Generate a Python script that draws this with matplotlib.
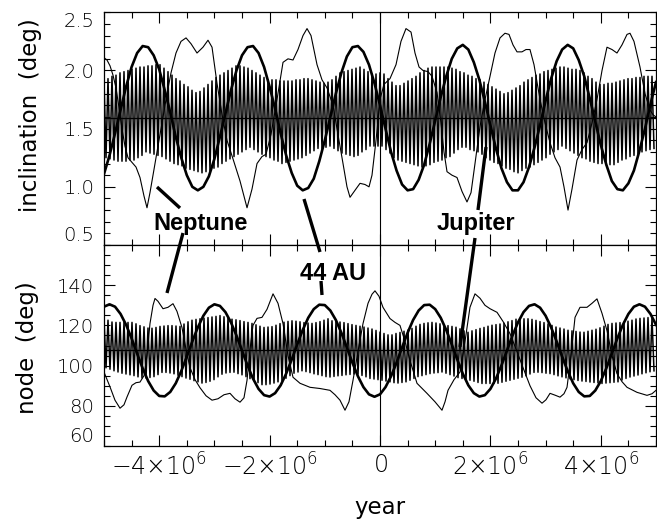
import numpy as np
import matplotlib
matplotlib.use("Agg")
import matplotlib.pyplot as plt
from matplotlib.lines import Line2D
from matplotlib.ticker import MultipleLocator, FixedLocator

plt.rcParams['font.family'] = ['DejaVu Sans']
plt.rcParams['font.weight'] = 'light'
plt.rcParams['mathtext.fontset'] = 'custom'
plt.rcParams['mathtext.rm'] = 'DejaVu Sans:light'
plt.rcParams['mathtext.it'] = 'DejaVu Sans:italic:light'
plt.rcParams['mathtext.bf'] = 'DejaVu Sans:bold'

# ---------------- data ----------------
# Jupiter: successive maxima / minima of the fast oscillation (one pair per cycle)
jup_inc_hi = [1.92,1.93,1.95,1.96,1.98,1.99,2.00,2.01,2.02,2.03,
 2.03,2.04,2.04,2.05,2.05,2.02,1.99,1.96,1.93,1.91,
 1.88,1.86,1.83,1.81,1.82,1.85,1.88,1.91,1.94,1.96,
 1.98,2.00,2.02,2.04,2.04,2.03,2.02,2.00,1.98,1.96,
 1.94,1.92,1.92,1.92,1.91,1.91,1.91,1.91,1.92,1.92,
 1.93,1.93,1.92,1.91,1.90,1.89,1.90,1.92,1.95,1.98,
 1.99,2.00,2.01,2.02,2.03,2.01,1.99,1.97,1.97,1.98,
 1.97,1.93,1.90,1.87,1.87,1.89,1.91,1.93,1.95,1.98,
 2.00,2.02,2.03,2.03,2.03,2.03,2.03,2.02,2.01,1.99,
 1.98,1.96,1.95,1.93,1.92,1.90,1.88,1.86,1.84,1.82,
 1.80,1.81,1.83,1.85,1.87,1.90,1.92,1.94,1.96,1.97,
 1.99,2.00,2.01,2.02,2.03,2.03,2.02,2.01,2.01,2.00,
 1.98,1.95,1.93,1.90,1.88,1.88,1.89,1.89,1.90,1.91,
 1.92,1.93,1.93,1.94,1.94,1.95,1.95,1.95]
jup_inc_lo = [1.25,1.24,1.23,1.22,1.22,1.22,1.23,1.23,1.25,1.27,
 1.30,1.29,1.28,1.27,1.26,1.24,1.22,1.20,1.19,1.18,
 1.16,1.15,1.14,1.13,1.12,1.13,1.14,1.16,1.17,1.20,
 1.22,1.24,1.26,1.28,1.30,1.32,1.34,1.32,1.30,1.28,
 1.26,1.25,1.23,1.22,1.20,1.21,1.22,1.23,1.24,1.25,
 1.27,1.29,1.31,1.33,1.33,1.34,1.35,1.33,1.31,1.29,
 1.28,1.27,1.26,1.27,1.30,1.32,1.35,1.35,1.35,1.35,
 1.32,1.29,1.25,1.23,1.22,1.21,1.20,1.19,1.18,1.17,
 1.18,1.19,1.21,1.22,1.23,1.25,1.26,1.29,1.32,1.34,
 1.34,1.32,1.31,1.30,1.28,1.25,1.23,1.21,1.20,1.18,
 1.16,1.15,1.13,1.12,1.14,1.16,1.17,1.19,1.21,1.23,
 1.25,1.28,1.30,1.32,1.35,1.33,1.31,1.29,1.27,1.25,
 1.24,1.22,1.21,1.20,1.20,1.19,1.19,1.19,1.21,1.23,
 1.24,1.26,1.27,1.28,1.30,1.31,1.32,1.33]
jup_node_hi = [123.5,122.6,121.7,121.5,121.5,121.5,121.5,121.5,120.8,119.9,
 119.3,118.7,118.6,119.0,119.5,119.7,119.9,119.9,119.7,119.5,
 120.7,121.8,122.6,123.0,123.3,123.6,123.9,124.2,124.5,124.9,
 124.3,123.6,123.1,122.8,122.4,121.9,121.5,121.0,120.3,119.6,
 119.0,119.2,119.4,120.1,120.9,121.6,122.0,122.3,122.1,121.8,
 121.4,121.2,121.0,121.4,121.9,122.6,123.3,122.3,122.0,121.7,
 121.4,120.9,120.4,120.0,119.6,119.2,118.7,118.2,117.5,116.7,
 116.0,115.3,115.3,116.0,116.5,117.1,117.7,118.5,119.6,120.5,
 121.0,121.3,121.5,121.2,120.8,120.3,119.9,119.5,119.1,118.3,
 117.3,116.6,117.3,117.9,118.5,119.0,119.6,120.1,120.4,120.7,
 121.1,121.8,122.4,123.1,123.3,123.3,123.3,123.0,122.5,121.9,
 121.4,120.7,120.0,119.2,118.7,118.2,117.6,117.3,117.0,116.7,
 116.6,117.1,117.6,118.1,118.8,119.6,120.5,121.0,121.2,121.4,
 121.6,122.1,122.6,123.2,123.5,123.7,123.9,123.8]
jup_node_lo = [98.9,98.2,97.4,96.8,96.2,95.8,95.4,95.0,94.4,93.8,
 93.8,94.1,94.5,95.5,96.6,96.6,96.3,95.9,95.2,94.5,
 93.8,93.2,92.5,91.9,91.3,91.6,92.2,93.0,94.4,95.7,
 96.3,96.6,96.7,96.0,95.4,94.5,93.5,92.5,91.5,90.5,
 90.5,90.8,91.3,91.9,92.5,93.7,95.0,96.2,96.8,97.4,
 97.0,96.5,95.9,95.5,95.0,94.5,94.3,94.6,94.9,95.1,
 95.4,95.6,95.8,95.8,95.1,94.4,93.6,93.3,93.0,92.7,
 92.3,91.9,91.5,91.3,91.6,91.9,92.7,93.6,94.5,95.0,
 95.5,96.0,96.3,96.5,96.8,96.2,95.5,94.8,94.0,93.6,
 93.2,92.7,92.2,91.6,91.1,91.1,91.1,91.1,91.2,91.7,
 92.2,92.7,93.2,93.7,94.2,94.9,95.8,96.6,96.7,96.5,
 96.2,96.0,95.5,94.9,94.4,93.9,93.4,93.0,92.6,92.3,
 92.1,91.8,91.6,91.4,91.1,91.3,91.5,91.7,91.9,92.8,
 93.6,94.3,94.8,95.3,95.9,96.4,96.9,97.4]
jup_period = 10e6 / 138          # years per fast cycle

# 44 AU plane, sampled every 1e5 yr from -5e6 to 5e6
au44_step = 1e5
au44_inc = [1.11,1.27,1.46,1.66,1.86,2.03,2.15,2.21,2.20,2.13,
 2.01,1.83,1.64,1.43,1.25,1.10,1.00,0.97,1.00,1.09,
 1.24,1.43,1.63,1.83,2.00,2.13,2.20,2.21,2.15,2.03,
 1.86,1.67,1.46,1.27,1.12,1.01,0.97,0.99,1.07,1.22,
 1.40,1.60,1.80,1.98,2.12,2.20,2.21,2.16,2.05,1.89,
 1.70,1.50,1.30,1.14,1.02,0.97,0.98,1.06,1.19,1.37,
 1.57,1.77,1.95,2.10,2.19,2.22,2.18,2.07,1.92,1.73,
 1.53,1.33,1.16,1.04,0.97,0.97,1.04,1.17,1.34,1.53,
 1.74,1.93,2.08,2.18,2.22,2.19,2.09,1.95,1.76,1.56,
 1.36,1.19,1.05,0.98,0.97,1.03,1.14,1.31,1.50,1.71,
 1.90]
au44_node = [129.3,130.5,129.3,125.7,120.3,113.5,106.0,98.7,92.3,87.6,
 84.9,84.7,86.9,91.2,97.3,104.5,112.0,119.0,124.8,128.8,
 130.5,129.7,126.6,121.5,114.9,107.5,100.1,93.5,88.4,85.3,
 84.6,86.3,90.2,96.0,103.0,110.5,117.7,123.8,128.1,130.3,
 130.1,127.4,122.7,116.3,109.0,101.5,94.7,89.3,85.7,84.5,
 85.7,89.3,94.7,101.5,109.0,116.3,122.7,127.4,130.1,130.3,
 128.1,123.8,117.7,110.5,103.0,96.0,90.2,86.3,84.6,85.3,
 88.4,93.5,100.1,107.5,114.9,121.5,126.6,129.7,130.5,128.8,
 124.8,119.0,112.0,104.5,97.3,91.2,86.9,84.7,84.9,87.6,
 92.3,98.7,106.0,113.5,120.3,125.7,129.3,130.5,129.3,125.7,
 120.3]

# Neptune (time in Myr, value)
nep_inc_t = [-5.000,-4.946,-4.891,-4.837,-4.783,-4.728,-4.674,-4.620,-4.565,-4.493,
 -4.420,-4.348,-4.275,-4.221,-4.167,-4.094,-4.022,-3.949,-3.877,-3.786,
 -3.696,-3.605,-3.514,-3.424,-3.315,-3.207,-3.116,-3.043,-2.953,-2.862,
 -2.772,-2.663,-2.536,-2.409,-2.319,-2.228,-2.138,-2.065,-1.975,-1.866,
 -1.757,-1.667,-1.576,-1.486,-1.395,-1.322,-1.250,-1.141,-1.051,-0.960,
 -0.851,-0.761,-0.670,-0.598,-0.543,-0.453,-0.362,-0.272,-0.199,-0.145,
 -0.072,0.000,0.072,0.181,0.290,0.380,0.471,0.562,0.634,0.707,
 0.779,0.870,0.942,1.033,1.105,1.159,1.214,1.304,1.395,1.486,
 1.576,1.649,1.721,1.812,1.902,1.993,2.083,2.174,2.264,2.337,
 2.409,2.482,2.572,2.645,2.717,2.790,2.899,2.989,3.080,3.170,
 3.261,3.333,3.406,3.478,3.569,3.659,3.750,3.841,3.931,4.022,
 4.112,4.203,4.293,4.384,4.475,4.529,4.601,4.710,4.801,4.891,
 4.946,5.000]
nep_inc_v = [2.11,2.09,2.04,1.96,1.85,1.68,1.50,1.35,1.25,1.21,
 1.17,1.08,0.92,0.82,0.95,1.15,1.35,1.55,1.75,1.98,
 2.15,2.25,2.28,2.23,2.15,2.20,2.26,2.20,1.89,1.62,
 1.40,1.24,1.05,0.82,0.98,1.20,1.26,1.28,1.45,1.75,
 2.07,2.10,2.09,2.18,2.30,2.36,2.30,2.05,1.92,1.85,
 1.70,1.45,1.20,1.00,0.91,0.97,1.03,1.02,1.00,1.10,
 1.40,1.75,1.88,1.93,2.05,2.25,2.36,2.33,2.15,2.03,
 2.00,1.99,1.95,1.81,1.55,1.30,1.13,1.10,1.08,0.96,
 0.87,0.95,1.20,1.52,1.75,1.95,2.15,2.28,2.32,2.31,
 2.22,2.16,2.16,2.18,2.18,2.05,1.75,1.55,1.38,1.25,
 1.17,1.00,0.80,0.98,1.23,1.32,1.38,1.55,1.75,2.00,
 2.20,2.18,2.15,2.22,2.31,2.32,2.25,2.03,1.80,1.66,
 1.62,1.60]
nep_node_t = [-5.000,-4.891,-4.801,-4.710,-4.638,-4.583,-4.493,-4.420,-4.348,-4.275,
 -4.221,-4.167,-4.112,-4.076,-4.022,-3.931,-3.841,-3.750,-3.678,-3.587,
 -3.514,-3.442,-3.351,-3.261,-3.152,-3.043,-2.935,-2.826,-2.717,-2.627,
 -2.536,-2.464,-2.409,-2.355,-2.301,-2.228,-2.138,-2.047,-1.938,-1.848,
 -1.757,-1.667,-1.576,-1.449,-1.268,-1.087,-0.906,-0.815,-0.725,-0.634,
 -0.562,-0.489,-0.399,-0.308,-0.217,-0.145,-0.091,-0.018,0.054,0.181,
 0.272,0.362,0.453,0.543,0.670,0.851,0.996,1.123,1.178,1.232,
 1.341,1.449,1.540,1.630,1.721,1.812,1.902,1.993,2.120,2.228,
 2.355,2.482,2.591,2.717,2.826,2.935,3.007,3.080,3.170,3.261,
 3.333,3.388,3.460,3.533,3.623,3.750,3.841,3.931,4.022,4.112,
 4.203,4.293,4.384,4.475,4.656,4.837,4.928,5.000]
nep_node_v = [96.8,89.4,82.8,78.8,80.5,84.4,90.2,91.5,91.8,95.0,
 105.0,120.9,130.0,133.4,132.0,128.3,129.0,130.8,127.0,118.9,
 108.0,99.0,93.0,89.0,85.0,82.8,83.5,85.5,86.2,83.5,
 81.8,84.0,92.7,108.0,120.0,123.5,124.0,128.0,135.7,131.0,
 120.9,105.0,94.2,91.2,89.2,88.6,87.7,85.5,82.8,77.8,
 82.0,92.7,107.0,120.9,131.0,135.5,137.2,134.5,129.0,123.4,
 121.5,120.0,112.0,102.6,91.2,86.2,82.0,77.8,82.0,87.7,
 93.0,96.8,112.0,129.0,135.7,133.5,130.0,128.3,126.5,122.0,
 115.9,107.0,99.0,90.0,84.0,81.3,83.0,86.2,85.3,84.3,
 86.0,89.2,105.0,124.0,129.0,129.0,131.0,133.2,126.0,117.4,
 105.0,96.0,92.0,89.2,86.7,85.2,86.0,87.7]

inc_ref = 1.59
node_ref = 108.0

xticks = [-4e6, -2e6, 0, 2e6, 4e6]
xticklabels = [r'$-4{\times}10^{6}$', r'$-2{\times}10^{6}$', r'$0$',
               r'$2{\times}10^{6}$', r'$4{\times}10^{6}$']
inc_ticks = [0.5, 1.0, 1.5, 2.0, 2.5]
inc_labels = ['0.5', '1.0', '1.5', '2.0', '2.5']
node_ticks = [60, 80, 100, 120, 140]
node_labels = ['60', '80', '100', '120', '140']

# ---------------- figure ----------------
W, H = 657, 519
fig = plt.figure(figsize=(W / 100, H / 100), dpi=100)
def fx(px): return px / W
def fy(py): return 1 - py / H

L, R = 104, 656
ax1 = fig.add_axes([fx(L), fy(245), fx(R) - fx(L), fy(12.3) - fy(245)])
ax2 = fig.add_axes([fx(L), fy(446), fx(R) - fx(L), fy(245) - fy(446)])

# derived x grids
jt = -5e6 + (jup_period / 2) * np.arange(2 * len(jup_inc_hi))
jinc = np.empty(len(jt)); jinc[0::2] = jup_inc_hi; jinc[1::2] = jup_inc_lo
jnode = np.empty(len(jt)); jnode[0::2] = jup_node_hi; jnode[1::2] = jup_node_lo
at = -5e6 + au44_step * np.arange(len(au44_inc))

for ax, jv, av, nt, nv, ref in [
        (ax1, jinc, au44_inc, nep_inc_t, nep_inc_v, inc_ref),
        (ax2, jnode, au44_node, nep_node_t, nep_node_v, node_ref)]:
    ax.plot(jt, jv, color='black', lw=1.1, zorder=2)
    ax.plot(np.array(nt) * 1e6, nv, color='black', lw=0.8, zorder=3)
    ax.plot(at, av, color='black', lw=1.9, zorder=4)
    ax.axhline(ref, color='black', lw=0.9, zorder=5)
    ax.axvline(0, color='black', lw=0.8, zorder=5)
    ax.set_xlim(-5e6, 5e6)
    ax.xaxis.set_major_locator(FixedLocator(xticks))
    ax.xaxis.set_minor_locator(MultipleLocator(5e5))
    ax.tick_params(which='both', direction='in', top=True, right=True,
                   width=0.8, labelsize=14, pad=7, labelcolor='black')
    ax.tick_params(which='major', length=8)
    ax.tick_params(which='minor', length=4)
    for s in ax.spines.values():
        s.set_linewidth(0.9)

ax1.set_ylim(0.5, 2.5)
ax1.set_yticks(inc_ticks)
ax1.set_yticklabels(inc_labels)
ax1.yaxis.set_minor_locator(MultipleLocator(0.1))
ax1.tick_params(axis='x', labelbottom=False)

ax2.set_ylim(60, 160)
ax2.set_yticks(node_ticks)
ax2.set_yticklabels(node_labels)
ax2.yaxis.set_minor_locator(MultipleLocator(5))
ax2.set_xticks(xticks)
ax2.set_xticklabels(xticklabels)
ax2.tick_params(axis='x', labelsize=17, pad=5)

ax1.set_ylabel('inclination  (deg)', fontsize=16.5)
ax1.yaxis.set_label_coords(-0.112, 0.56)
ax2.set_ylabel('node  (deg)', fontsize=16.5)
ax2.yaxis.set_label_coords(-0.118, 0.49)
ax2.set_xlabel('year', fontsize=16.5)
ax2.xaxis.set_label_coords(0.5, -0.25)

# tick-label alignment near the panel edges
lab1 = ax1.get_yticklabels()
lab1[0].set_va('bottom')
lab1[-1].set_va('top')
lab2 = ax2.get_yticklabels()
lab2[0].set_va('bottom')

# only some y major ticks are long
for ax, short in [(ax1, [0.5, 1.5, 2.5]), (ax2, [60, 100, 120])]:
    for tk, v in zip(ax.yaxis.get_major_ticks(), ax.get_yticks()):
        if v in short:
            tk.tick1line.set_markersize(4)
            tk.tick2line.set_markersize(4)

# annotations
bold = dict(fontsize=17, fontweight='bold', family=['Liberation Sans', 'DejaVu Sans'],
            ha='center', va='baseline')
fig.text(fx(201), fy(230), 'Neptune', **bold)
fig.text(fx(476), fy(230), 'Jupiter', **bold)
fig.text(fx(333), fy(280), '44 AU', **bold)
for (x0, y0), (x1, y1) in [((157, 187), (180, 208)), ((183, 233), (167, 293)),
                           ((304, 199), (320, 252)), ((321, 281), (322, 295)),
                           ((486, 147), (478, 210)), ((475, 238), (460, 347))]:
    fig.add_artist(Line2D([fx(x0), fx(x1)], [fy(y0), fy(y1)],
                          transform=fig.transFigure, color='black', lw=2.4,
                          solid_capstyle='butt'))

fig.savefig('out.png', dpi=100)
